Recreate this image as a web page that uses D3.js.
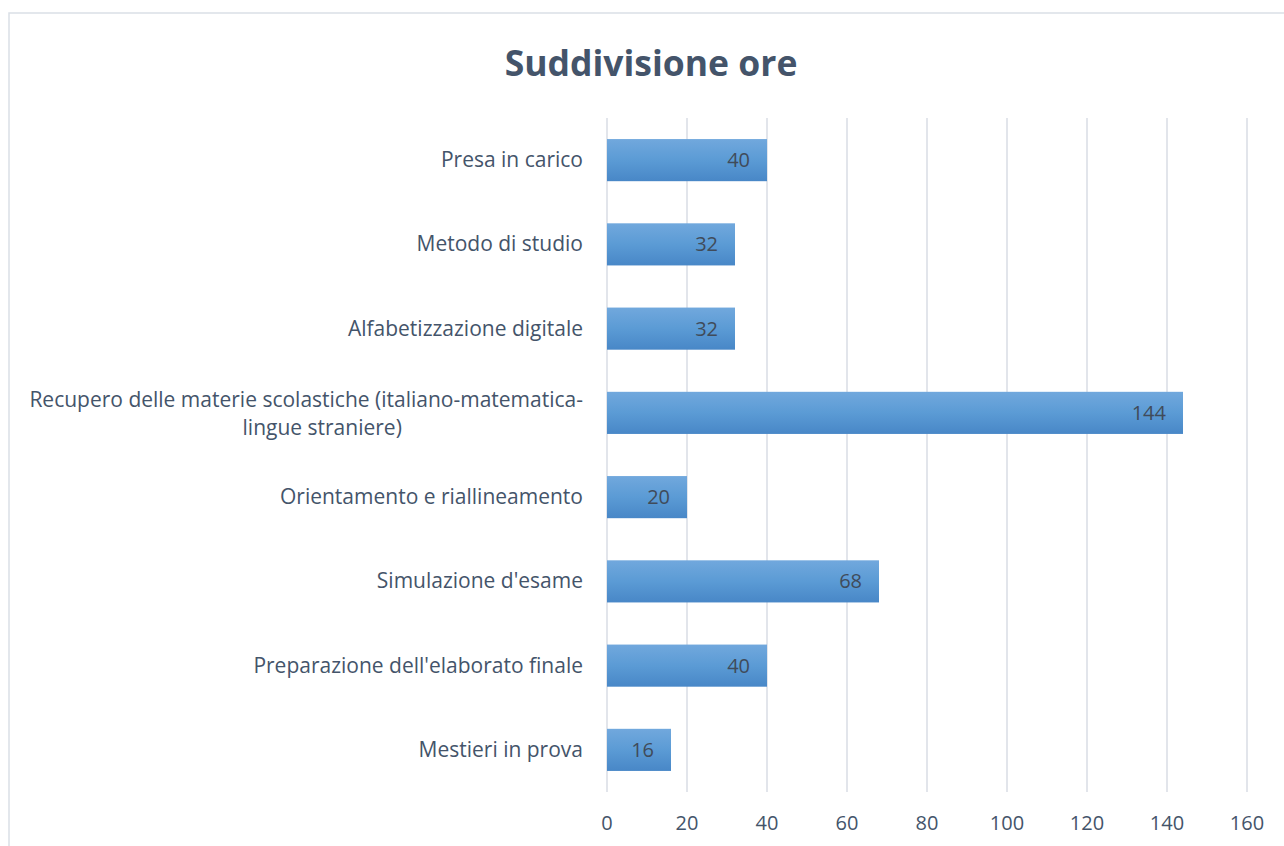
<!DOCTYPE html>
<html>
<head>
<meta charset="utf-8">
<script src="https://cdn.jsdelivr.net/npm/d3@7"></script>
<style>
    body { margin: 0; background: #fff; }
    text { font-family: "Open Sans", Lato, sans-serif; }
</style>
</head>
<body>
<div id="chart"></div>
<script>
const categories = [
    "Presa in carico",
    "Metodo di studio",
    "Alfabetizzazione digitale",
    "Recupero delle materie scolastiche (italiano-matematica-\nlingue straniere)",
    "Orientamento e riallineamento",
    "Simulazione d'esame",
    "Preparazione dell'elaborato finale",
    "Mestieri in prova"
];
const ore = [40, 32, 32, 144, 20, 68, 40, 16];
const xTicks = [0, 20, 40, 60, 80, 100, 120, 140, 160];

const width = 1284, height = 846;
const margin = {top: 118, right: 37, bottom: 54, left: 607};
const textColor = "#44546a";

const svg = d3.select("#chart").append("svg")
    .attr("width", width)
    .attr("height", height);

const defs = svg.append("defs");
const grad = defs.append("linearGradient")
    .attr("id", "barGrad")
    .attr("x1", 0).attr("y1", 0).attr("x2", 0).attr("y2", 1);
grad.append("stop").attr("offset", "0%").attr("stop-color", "#71a8dd");
grad.append("stop").attr("offset", "50%").attr("stop-color", "#5b9bd5");
grad.append("stop").attr("offset", "100%").attr("stop-color", "#4887c7");

// chart border
svg.append("rect")
    .attr("x", 9).attr("y", 13)
    .attr("width", 1400).attr("height", 1000)
    .attr("fill", "none")
    .attr("stroke", "#dadfe6")
    .attr("stroke-width", 1.5);

svg.append("text")
    .attr("x", 651)
    .attr("y", 76)
    .attr("text-anchor", "middle")
    .attr("font-size", 35.5)
    .attr("font-weight", "bold")
    .attr("fill", textColor)
    .text("Suddivisione ore");

const x = d3.scaleLinear()
    .domain([0, 160])
    .range([margin.left, width - margin.right]);

const y = d3.scaleBand()
    .domain(categories)
    .range([margin.top, height - margin.bottom])
    .paddingInner(0.5)
    .paddingOuter(0.25);

// gridlines
svg.append("g")
    .selectAll("line")
    .data(xTicks)
    .enter()
    .append("line")
    .attr("x1", d => x(d))
    .attr("x2", d => x(d))
    .attr("y1", margin.top)
    .attr("y2", height - margin.bottom)
    .attr("stroke", "#d9dde5")
    .attr("stroke-width", 1.5);

// x axis labels
svg.append("g")
    .selectAll("text")
    .data(xTicks)
    .enter()
    .append("text")
    .attr("x", d => x(d))
    .attr("y", 830)
    .attr("text-anchor", "middle")
    .attr("font-size", 20)
    .attr("fill", textColor)
    .text(d => d);

// bars
svg.append("g")
    .selectAll("rect")
    .data(ore)
    .enter()
    .append("rect")
    .attr("x", x(0))
    .attr("y", (d, i) => y(categories[i]))
    .attr("width", d => x(d) - x(0))
    .attr("height", y.bandwidth())
    .attr("fill", "url(#barGrad)");

// value labels
svg.append("g")
    .selectAll("text")
    .data(ore)
    .enter()
    .append("text")
    .attr("x", d => x(d) - 17)
    .attr("y", (d, i) => y(categories[i]) + y.bandwidth() / 2 + 7)
    .attr("text-anchor", "end")
    .attr("font-size", 20)
    .attr("fill", "#404b5a")
    .text(d => d);

// category labels
const catG = svg.append("g");
categories.forEach(c => {
    const lines = c.split("\n");
    const cy = y(c) + y.bandwidth() / 2;
    const t = catG.append("text")
        .attr("font-size", 21)
        .attr("fill", textColor);
    if (lines.length === 1) {
        t.attr("x", 583).attr("y", cy + 7).attr("text-anchor", "end").text(c);
    } else {
        const first = t.append("tspan")
            .attr("x", 583).attr("y", cy - 6)
            .attr("text-anchor", "end")
            .text(lines[0]);
        const w = first.node().getComputedTextLength();
        t.append("tspan")
            .attr("x", 583 - w / 2 + 16).attr("y", cy + 22)
            .attr("text-anchor", "middle")
            .text(lines[1]);
    }
});
</script>
</body>
</html>
